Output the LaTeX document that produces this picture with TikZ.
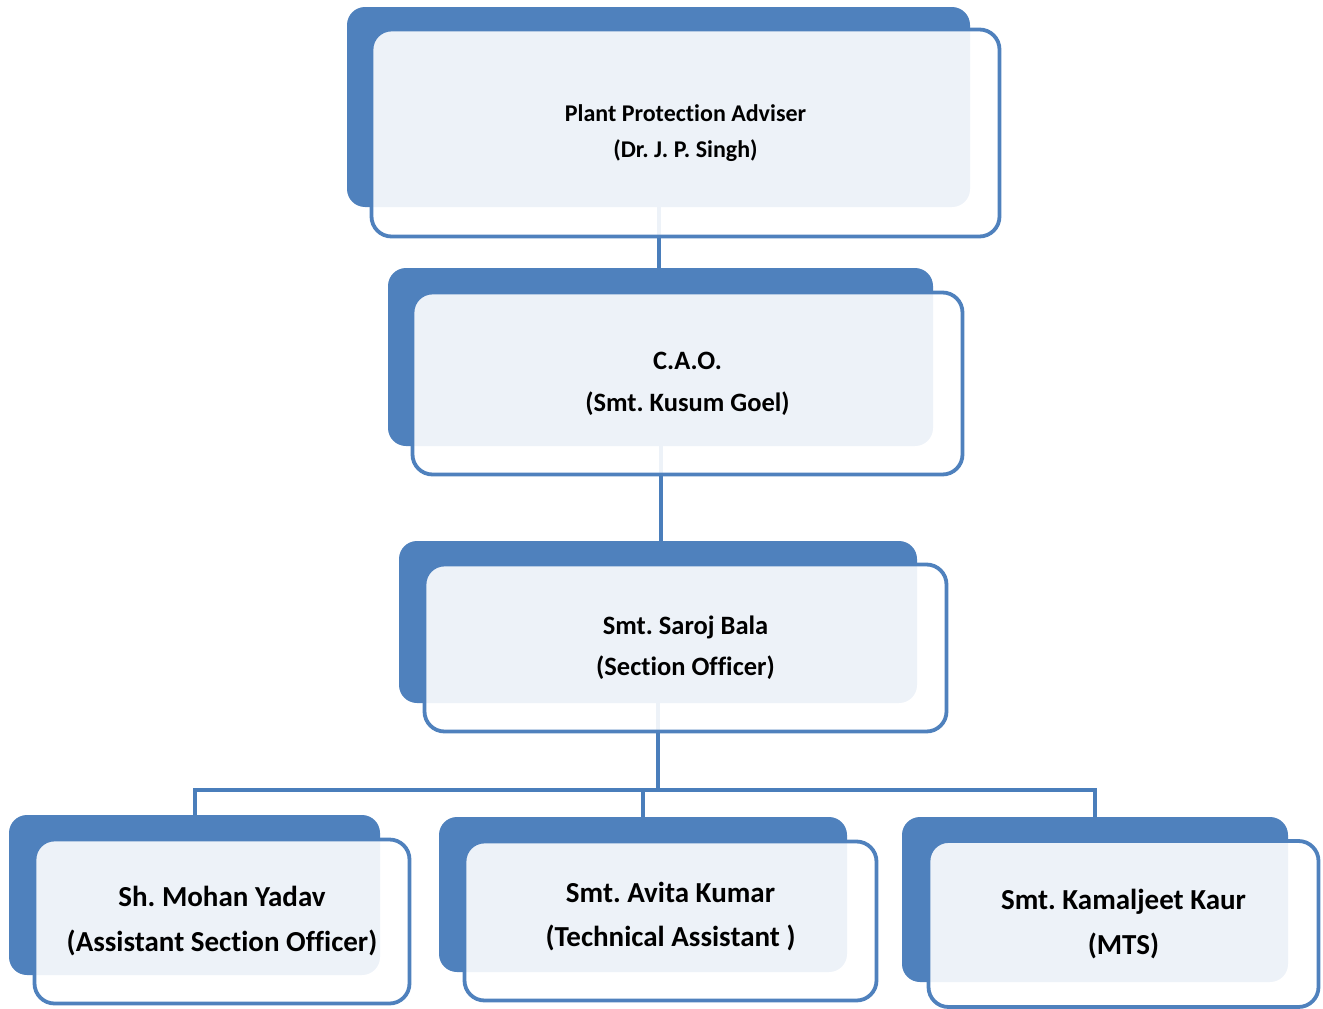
\documentclass[tikz,border=0pt]{standalone}
\usepackage{fontspec}
\setmainfont{Carlito}[Ligatures=NoCommon]
\usetikzlibrary{positioning}
\definecolor{accent}{HTML}{4F81BD}
\definecolor{linkblue}{HTML}{4A7EBB}
\tikzstyle{backbox} = [rectangle, rounded corners=18pt, fill=accent, inner sep=0pt]
\tikzstyle{frontbox} = [rectangle, rounded corners=20pt, draw=accent, line width=3.8pt, fill=white, fill opacity=0.9, text opacity=1, align=center, inner sep=0pt]
\tikzstyle{link} = [draw=linkblue, line width=4pt]
\frenchspacing
\begin{document}
\begin{tikzpicture}[x=1pt, y=-1pt]
	\useasboundingbox (0,0) rectangle (1323,1009);
	% back boxes
	\node (ppa) [backbox, minimum width=623pt, minimum height=200pt] at (658.5,107) {};
	\node (cao) [backbox, minimum width=545pt, minimum height=178pt] at (660.5,357) {};
	\node (sb) [backbox, minimum width=518pt, minimum height=162pt] at (658,622) {};
	\node (my) [backbox, minimum width=371pt, minimum height=160pt] at (194.5,895) {};
	\node (ak) [backbox, minimum width=408pt, minimum height=155pt] at (643,894.5) {};
	\node (kk) [backbox, minimum width=386pt, minimum height=165pt] at (1095,899.5) {};
	% connectors
	\draw [link] (ppa.south) -- (ppa.south |- cao.north);
	\draw [link] (cao.south) -- (cao.south |- sb.north);
	\draw [link] (sb.south) -- ++(0,87) coordinate (bus);
	\draw [link] (my.north) |- (bus) -| (kk.north);
	\draw [link] (ak.north) -- (ak.north |- bus);
	% front boxes
	\node (ppa-f) [frontbox, minimum width=628pt, minimum height=207pt, font=\bfseries\fontsize{24}{36}\selectfont] at (685.5,133) {Plant Protection Adviser\\(Dr. J. P. Singh)};
	\node (cao-f) [frontbox, minimum width=550pt, minimum height=182pt, font=\bfseries\fontsize{26.5}{42}\selectfont] at (687.5,383.5) {C.A.O.\\(Smt. Kusum Goel)};
	\node (sb-f) [frontbox, minimum width=522pt, minimum height=167pt, font=\bfseries\fontsize{26.5}{41}\selectfont] at (685.5,648) {Smt. Saroj Bala\\(Section Officer)};
	\node (my-f) [frontbox, minimum width=375pt, minimum height=164pt, font=\bfseries\fontsize{29}{45}\selectfont] at (222,921.5) {Sh. Mohan Yadav\\(Assistant Section Officer)};
	\node (ak-f) [frontbox, minimum width=412pt, minimum height=159pt, font=\bfseries\fontsize{29}{44}\selectfont] at (670.5,921) {Smt. Avita Kumar\\(Technical Assistant )\\[-30pt]};
	\node (kk-f) [frontbox, minimum width=390pt, minimum height=166pt, font=\bfseries\fontsize{29}{45}\selectfont] at (1123.5,924) {Smt. Kamaljeet Kaur\\(MTS)};
\end{tikzpicture}
\end{document}
